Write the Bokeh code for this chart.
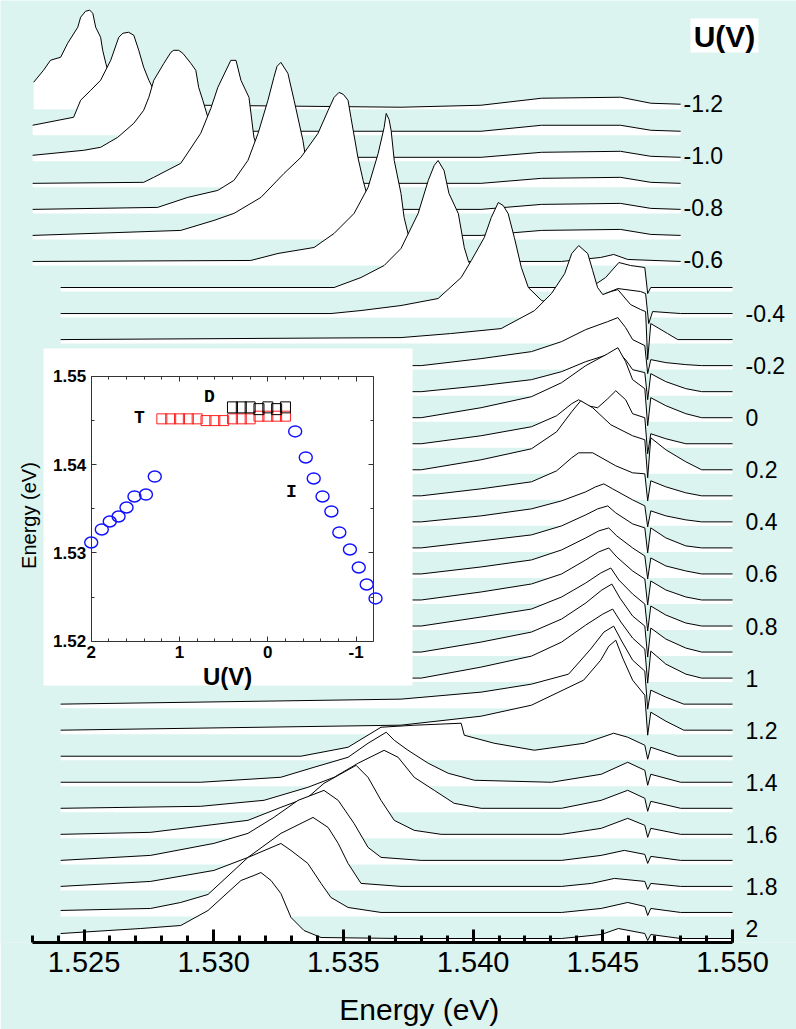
import numpy as np
from bokeh.plotting import figure
from bokeh.models import Range1d, LinearAxis, FixedTicker, PrintfTickFormatter
from bokeh.embed import file_html
from bokeh.resources import INLINE
from bokeh.core.properties import value

# ---------------------------------------------------------------------------
# Photoluminescence spectra versus gate voltage U (V).
# Each spectrum: (photon energy in eV, intensity in a.u. above its own baseline)
# ---------------------------------------------------------------------------
S_M12 = [(1.52306, 23), (1.52344, 35), (1.52371, 45), (1.52410, 48), (1.52437, 62), (1.52476, 78),
         (1.52487, 88), (1.52506, 94), (1.52522, 95), (1.52534, 92), (1.52545, 78), (1.52564, 68),
         (1.52572, 55), (1.52584, 42), (1.52603, 25), (1.52634, 10), (1.52680, 3), (1.52950, 0),
         (1.53722, -2), (1.54031, 0), (1.54264, 7), (1.54568, 8), (1.54685, 2), (1.54800, 1)]
S_M11 = [(1.52302, 6), (1.52460, 14), (1.52487, 31), (1.52526, 41), (1.52564, 51), (1.52603, 71),
         (1.52634, 94), (1.52650, 98), (1.52672, 99), (1.52692, 96), (1.52711, 81), (1.52730, 64),
         (1.52750, 51), (1.52769, 41), (1.52796, 25), (1.52827, 10), (1.52873, 3), (1.53028, 0),
         (1.54031, 0), (1.54264, 6), (1.54568, 6), (1.54685, 1), (1.54800, 0)]
S_M10 = [(1.52302, 2), (1.52499, 7), (1.52564, 10), (1.52630, 20), (1.52692, 34), (1.52730, 47),
         (1.52750, 60), (1.52769, 77), (1.52808, 94), (1.52835, 105), (1.52846, 107), (1.52865, 107),
         (1.52881, 104), (1.52912, 94), (1.52931, 87), (1.52942, 70), (1.52958, 57), (1.52989, 30),
         (1.53028, 10), (1.53086, 2), (1.53336, 0), (1.54031, 0), (1.54264, 5), (1.54568, 6),
         (1.54685, 1), (1.54800, 0)]
S_M09 = [(1.52302, 0), (1.52730, 1), (1.52769, 6), (1.52873, 20), (1.52950, 50), (1.52989, 75),
         (1.53016, 96), (1.53066, 123), (1.53086, 123), (1.53105, 103), (1.53136, 86), (1.53155, 46),
         (1.53182, 25), (1.53221, 8), (1.53279, 2), (1.53414, 0), (1.54031, 0), (1.54264, 5),
         (1.54568, 6), (1.54685, 1), (1.54800, 0)]
S_M08 = [(1.52302, 0), (1.52784, 2), (1.52900, 12), (1.53016, 19), (1.53078, 29), (1.53132, 49),
         (1.53171, 76), (1.53209, 109), (1.53232, 132), (1.53244, 143), (1.53259, 147), (1.53286, 136),
         (1.53310, 109), (1.53344, 69), (1.53356, 49), (1.53363, 36), (1.53394, 18), (1.53433, 6),
         (1.53510, 1), (1.53722, 0), (1.54031, 0), (1.54264, 5), (1.54568, 6), (1.54685, 1), (1.54800, 0)]
S_M07 = [(1.52302, 0), (1.52873, 5), (1.53001, 15), (1.53078, 22), (1.53182, 38), (1.53271, 62),
         (1.53336, 78), (1.53402, 102), (1.53441, 125), (1.53464, 138), (1.53483, 143), (1.53500, 141),
         (1.53518, 135), (1.53529, 118), (1.53556, 78), (1.53576, 55), (1.53607, 25), (1.53645, 8),
         (1.53722, 2), (1.53838, 0), (1.54031, 0), (1.54264, 5), (1.54568, 6), (1.54685, 1), (1.54800, 0)]
S_M06 = [(1.52302, 0), (1.53143, 1), (1.53248, 8), (1.53387, 14), (1.53464, 28), (1.53541, 48),
         (1.53595, 74), (1.53634, 108), (1.53657, 134), (1.53665, 148), (1.53676, 142), (1.53684, 131),
         (1.53696, 101), (1.53722, 68), (1.53734, 44), (1.53749, 28), (1.53780, 8), (1.53819, 2),
         (1.53954, 0), (1.54341, 0), (1.54492, 4), (1.54542, 7), (1.54596, 2), (1.54800, 0)]
S_M05 = [(1.52410, 0), (1.53464, 0), (1.53568, 10), (1.53657, 22), (1.53722, 39), (1.53788, 74),
         (1.53827, 107), (1.53850, 122), (1.53865, 127), (1.53888, 117), (1.53907, 94), (1.53943, 74),
         (1.53966, 40), (1.53981, 27), (1.54012, 10), (1.54070, 3), (1.54186, 0), (1.54453, 0),
         (1.54511, 10), (1.54562, 25), (1.54607, 22), (1.54662, 20), (1.54673, -6), (1.54685, 0),
         (1.55000, 0)]
S_M04 = [(1.52410, 0), (1.53452, 0), (1.53568, 3), (1.53722, 8), (1.53865, 15), (1.53954, 36),
         (1.53993, 53), (1.54043, 76), (1.54070, 96), (1.54097, 111), (1.54116, 108), (1.54135, 100),
         (1.54159, 76), (1.54186, 46), (1.54213, 26), (1.54264, 13), (1.54341, 8), (1.54453, 10),
         (1.54511, 20), (1.54558, 25), (1.54646, 22), (1.54665, 20), (1.54677, -10), (1.54692, 2),
         (1.54800, 0), (1.55000, 0)]
S_M03 = [(1.52410, 0), (1.53722, 2), (1.53913, 6), (1.54108, 11), (1.54237, 29), (1.54302, 46),
         (1.54353, 66), (1.54380, 86), (1.54407, 94), (1.54442, 86), (1.54461, 69), (1.54480, 52),
         (1.54500, 45), (1.54531, 48), (1.54558, 50), (1.54607, 35), (1.54646, 30), (1.54665, 28),
         (1.54673, -20), (1.54685, 16), (1.54750, 6), (1.54789, 0), (1.55000, 0)]
S_M02 = [(1.52410, 0), (1.53800, 0), (1.54031, 7), (1.54225, 14), (1.54341, 24), (1.54434, 36),
         (1.54519, 44), (1.54558, 48), (1.54588, 38), (1.54615, 26), (1.54662, 20), (1.54673, -8),
         (1.54685, 6), (1.54743, 3), (1.54820, 1), (1.54881, 0), (1.55000, 0)]
S_M01 = [(1.52410, 0), (1.53800, 0), (1.54031, 6), (1.54225, 12), (1.54341, 20), (1.54434, 30),
         (1.54519, 37), (1.54558, 40), (1.54588, 32), (1.54615, 22), (1.54662, 19), (1.54673, -8),
         (1.54685, 18), (1.54743, 10), (1.54820, 3), (1.54881, 0), (1.55000, 0)]
S_P00 = [(1.52410, 0), (1.53800, 0), (1.54031, 10), (1.54225, 21), (1.54341, 35), (1.54434, 52),
         (1.54519, 64), (1.54558, 70), (1.54588, 56), (1.54615, 38), (1.54662, 29), (1.54673, -8),
         (1.54685, 20), (1.54743, 12), (1.54820, 4), (1.54881, 0), (1.55000, 0)]
S_P01 = [(1.52410, 0), (1.53800, 0), (1.54031, 8), (1.54225, 17), (1.54322, 28), (1.54380, 40),
         (1.54407, 44), (1.54442, 38), (1.54480, 36), (1.54519, 45), (1.54550, 53), (1.54588, 44),
         (1.54615, 30), (1.54662, 26), (1.54673, -10), (1.54685, 10), (1.54743, 5), (1.54820, 0),
         (1.55000, 0)]
S_P02 = [(1.52410, 0), (1.53800, 0), (1.54031, 10), (1.54225, 21), (1.54322, 38), (1.54380, 58),
         (1.54415, 69), (1.54461, 62), (1.54531, 45), (1.54615, 34), (1.54662, 30), (1.54673, -8),
         (1.54685, 32), (1.54743, 20), (1.54820, 8), (1.54881, 0), (1.55000, 0)]
S_P03 = [(1.52410, 0), (1.53800, 0), (1.54031, 7), (1.54225, 14), (1.54322, 25), (1.54380, 38),
         (1.54407, 43), (1.54461, 43), (1.54550, 30), (1.54615, 23), (1.54662, 22), (1.54673, -5),
         (1.54685, 15), (1.54743, 9), (1.54820, 3), (1.54881, 0), (1.55000, 0)]
S_P04 = [(1.52410, 0), (1.53800, 0), (1.54031, 6), (1.54225, 13), (1.54341, 21), (1.54434, 30),
         (1.54472, 35), (1.54504, 38), (1.54538, 33), (1.54615, 22), (1.54662, 16), (1.54673, -5),
         (1.54685, 11), (1.54743, 6), (1.54820, 2), (1.54881, 0), (1.55000, 0)]
S_P05 = [(1.52410, 0), (1.53800, 0), (1.54031, 7), (1.54225, 13), (1.54341, 22), (1.54434, 33),
         (1.54480, 39), (1.54519, 42), (1.54550, 35), (1.54615, 24), (1.54662, 20), (1.54673, -5),
         (1.54685, 20), (1.54743, 10), (1.54820, 2), (1.54881, 0), (1.55000, 0)]
S_P06 = [(1.52410, 0), (1.53800, 0), (1.54031, 7), (1.54225, 14), (1.54341, 24), (1.54434, 36),
         (1.54484, 43), (1.54523, 46), (1.54554, 38), (1.54615, 26), (1.54662, 18), (1.54673, -5),
         (1.54685, 16), (1.54743, 8), (1.54820, 3), (1.54881, 0), (1.55000, 0)]
S_P07 = [(1.52410, 0), (1.53800, 0), (1.54031, 8), (1.54225, 16), (1.54341, 26), (1.54434, 40),
         (1.54484, 48), (1.54523, 52), (1.54554, 43), (1.54615, 29), (1.54662, 21), (1.54673, -5),
         (1.54685, 19), (1.54743, 10), (1.54820, 3), (1.54881, 0), (1.55000, 0)]
S_P08 = [(1.52410, 0), (1.53800, 0), (1.54031, 9), (1.54225, 17), (1.54341, 29), (1.54434, 43),
         (1.54492, 53), (1.54531, 58), (1.54562, 46), (1.54615, 32), (1.54662, 22), (1.54673, -5),
         (1.54685, 20), (1.54743, 11), (1.54820, 3), (1.54881, 0), (1.55000, 0)]
S_P09 = [(1.52410, 0), (1.53800, 0), (1.54031, 10), (1.54225, 20), (1.54341, 33), (1.54434, 49),
         (1.54496, 62), (1.54535, 68), (1.54566, 54), (1.54615, 36), (1.54662, 26), (1.54673, -5),
         (1.54685, 24), (1.54743, 13), (1.54820, 4), (1.54881, 0), (1.55000, 0)]
S_P10 = [(1.52410, 0), (1.53800, 0), (1.54031, 11), (1.54225, 22), (1.54341, 36), (1.54434, 53),
         (1.54500, 64), (1.54538, 69), (1.54570, 56), (1.54615, 40), (1.54662, 29), (1.54673, -5),
         (1.54685, 27), (1.54743, 14), (1.54820, 4), (1.54881, 0), (1.55000, 0)]
S_P11 = [(1.52410, 0), (1.53722, 5), (1.54031, 12), (1.54225, 20), (1.54368, 30), (1.54453, 55),
         (1.54504, 72), (1.54542, 78), (1.54573, 63), (1.54615, 44), (1.54662, 33), (1.54673, -5),
         (1.54685, 14), (1.54743, 7), (1.54812, 0), (1.55000, 0)]
S_P12 = [(1.52410, 0), (1.53722, 5), (1.54031, 14), (1.54225, 25), (1.54426, 50), (1.54492, 70),
         (1.54523, 84), (1.54550, 90), (1.54577, 72), (1.54615, 50), (1.54662, 35), (1.54673, -5),
         (1.54685, 18), (1.54743, 9), (1.54812, 0), (1.55000, 0)]
S_P13 = [(1.52410, 0), (1.53336, 0), (1.53518, 9), (1.53645, 29), (1.53773, 31), (1.53954, 33),
         (1.53966, 21), (1.54081, 13), (1.54236, 6), (1.54429, 13), (1.54542, 23), (1.54596, 19),
         (1.54662, 11), (1.54673, -3), (1.54685, 9), (1.54789, 0), (1.55000, 0)]
S_P14 = [(1.52410, 0), (1.52950, 0), (1.53259, 5), (1.53387, 15), (1.53518, 25), (1.53595, 39),
         (1.53665, 50), (1.53696, 42), (1.53749, 32), (1.53827, 19), (1.53904, 9), (1.54005, 2),
         (1.54302, 0), (1.54494, 8), (1.54596, 20), (1.54662, 12), (1.54673, -3), (1.54685, 8),
         (1.54800, 0), (1.55000, 0)]
S_P15 = [(1.52410, 0), (1.52950, 2), (1.53194, 8), (1.53363, 21), (1.53464, 31), (1.53556, 45),
         (1.53657, 58), (1.53711, 51), (1.53773, 31), (1.53850, 18), (1.53927, 5), (1.54031, 0),
         (1.54341, 0), (1.54494, 8), (1.54596, 18), (1.54662, 10), (1.54673, -3), (1.54685, 7),
         (1.54800, 0), (1.55000, 0)]
S_P16 = [(1.52410, 0), (1.52757, 2), (1.53132, 14), (1.53259, 27), (1.53363, 37), (1.53425, 51),
         (1.53549, 69), (1.53595, 57), (1.53645, 34), (1.53696, 14), (1.53773, 4), (1.53877, 0),
         (1.54341, 0), (1.54494, 6), (1.54596, 16), (1.54662, 9), (1.54673, -3), (1.54685, 6),
         (1.54800, 0), (1.55000, 0)]
S_P17 = [(1.52410, 0), (1.52757, 5), (1.53001, 17), (1.53132, 27), (1.53232, 43), (1.53325, 60),
         (1.53425, 70), (1.53480, 60), (1.53541, 37), (1.53595, 13), (1.53645, 3), (1.53800, 0),
         (1.54341, 0), (1.54494, 5), (1.54583, 10), (1.54662, 6), (1.54673, -3), (1.54685, 4),
         (1.54800, 0), (1.55000, 0)]
S_P18 = [(1.52410, 0), (1.52757, 5), (1.53001, 16), (1.53132, 29), (1.53259, 53), (1.53383, 69),
         (1.53441, 59), (1.53480, 43), (1.53518, 23), (1.53568, 3), (1.53722, 0), (1.54341, 0),
         (1.54456, 3), (1.54545, 8), (1.54662, 5), (1.54673, -3), (1.54685, 3), (1.54800, 0),
         (1.55000, 0)]
S_P19 = [(1.52410, 2), (1.52757, 4), (1.52873, 10), (1.52978, 18), (1.53028, 30), (1.53132, 55),
         (1.53259, 69), (1.53298, 62), (1.53363, 49), (1.53414, 29), (1.53452, 15), (1.53518, 5),
         (1.53645, 0), (1.54341, 0), (1.54494, 4), (1.54596, 10), (1.54662, 6), (1.54673, -3),
         (1.54685, 4), (1.54800, 0), (1.55000, 0)]
S_P20 = [(1.52410, 5), (1.52719, 10), (1.52873, 13), (1.52978, 28), (1.53105, 58), (1.53155, 63),
         (1.53182, 66), (1.53221, 58), (1.53259, 45), (1.53298, 21), (1.53348, 8), (1.53414, 1),
         (1.53722, 0), (1.54341, 0), (1.54494, 4), (1.54560, 10), (1.54662, 5), (1.54673, -2),
         (1.54685, 4), (1.54800, 0), (1.55000, 0)]

VOLTAGES = [-1.2, -1.1, -1.0, -0.9, -0.8, -0.7, -0.6, -0.5, -0.4, -0.3, -0.2, -0.1, 0.0,
            0.1, 0.2, 0.3, 0.4, 0.5, 0.6, 0.7, 0.8, 0.9, 1.0, 1.1, 1.2, 1.3, 1.4, 1.5,
            1.6, 1.7, 1.8, 1.9, 2.0]
SPECTRA = [S_M12, S_M11, S_M10, S_M09, S_M08, S_M07, S_M06, S_M05, S_M04, S_M03, S_M02, S_M01,
           S_P00, S_P01, S_P02, S_P03, S_P04, S_P05, S_P06, S_P07, S_P08, S_P09, S_P10, S_P11,
           S_P12, S_P13, S_P14, S_P15, S_P16, S_P17, S_P18, S_P19, S_P20]

# Voltage labels at the right-hand end of the spectra
LABELS_UPPER = ["-1.2", "-1.0", "-0.8", "-0.6"]
LABELS_UPPER_U = [-1.2, -1.0, -0.8, -0.6]
LABELS_LOWER = ["-0.4", "-0.2", "0", "0.2", "0.4", "0.6", "0.8", "1", "1.2", "1.4", "1.6", "1.8", "2"]
LABELS_LOWER_U = [-0.4, -0.2, 0.0, 0.2, 0.4, 0.6, 0.8, 1.0, 1.2, 1.4, 1.6, 1.8, 2.0]

# Energy axis ticks
X_MAJOR = [1.525, 1.530, 1.535, 1.540, 1.545, 1.550]
X_MINOR = [round(1.523 + 0.001 * i, 3) for i in range(28)]

# Inset: peak positions versus voltage
I_U = [2.0, 1.88, 1.79, 1.69, 1.6, 1.51, 1.38, 1.28,
       -0.31, -0.43, -0.52, -0.62, -0.72, -0.81, -0.93, -1.03, -1.12, -1.22]
I_E = [1.53118, 1.53266, 1.53356, 1.53413, 1.53515, 1.53640, 1.53662, 1.53866,
       1.54377, 1.54082, 1.53844, 1.53640, 1.53470, 1.53232, 1.53039, 1.52835, 1.52642, 1.52484]
T_U = [1.2, 1.1, 1.0, 0.9, 0.8, 0.7, 0.6, 0.5, 0.4, 0.3, 0.2, 0.1, 0.0, -0.1, -0.2]
T_E = [1.5452, 1.5452, 1.5452, 1.5452, 1.5452, 1.5450, 1.5450, 1.5450, 1.5452, 1.5452, 1.5452,
       1.5455, 1.5455, 1.5455, 1.5455]
D_U = [0.4, 0.3, 0.2, 0.1, 0.0, -0.1, -0.2]
D_E = [1.5465, 1.5465, 1.5465, 1.5463, 1.5465, 1.5463, 1.5465]

# ---------------------------------------------------------------------------
BG = "#dbf4ef"
FONT = "Liberation Sans"
OFFSET_PER_VOLT = 260.4      # vertical shift between successive spectra (a.u. per V)
FILL_DEPTH = 4               # white fill reaches slightly below each baseline
NBSP = "\u00a0"


def baseline(u):
    return (2.0 - u) * OFFSET_PER_VOLT


p = figure(width=796, height=1029, output_backend="svg", toolbar_location=None,
           x_range=Range1d(1.521781, 1.552467), y_range=Range1d(-4, 938),
           x_axis_location=None, y_axis_location=None,
           min_border_left=0, min_border_right=0, min_border_top=0, min_border_bottom=87,
           background_fill_color=BG, border_fill_color=BG, outline_line_color=None)
p.grid.visible = False

# ---- stacked spectra, drawn top to bottom so lower ones hide those behind
for u, spec in zip(VOLTAGES, SPECTRA):
    e = np.array([pt[0] for pt in spec])
    h = np.array([pt[1] for pt in spec], dtype=float)
    b = baseline(u)
    y = b + h
    p.varea(x=e, y1=b - FILL_DEPTH, y2=np.maximum(y, b - FILL_DEPTH), fill_color="white")
    p.line(e, y, line_color="black", line_width=1)

# ---- voltage labels
p.text(x=[1.54811] * len(LABELS_UPPER), y=[baseline(u) + 2 for u in LABELS_UPPER_U],
       text=LABELS_UPPER, text_font=value(FONT), text_font_size="23px",
       text_baseline="middle", text_align="left", text_color="black")
lower_y = [baseline(u) for u in LABELS_LOWER_U]
lower_y[-1] += 10
p.text(x=[1.55050] * len(LABELS_LOWER), y=lower_y, text=LABELS_LOWER,
       text_font=value(FONT), text_font_size="23px", text_baseline="middle",
       text_align="left", text_color="black")

# ---- "U(V)" heading on a white patch
p.quad(left=1.54838, right=1.55100, bottom=886, top=920, fill_color="white", line_color=None)
p.text(x=[1.54969], y=[902], text=["U(V)"], text_font=value(FONT), text_font_size="30px",
       text_font_style="bold", text_baseline="middle", text_align="center")

# ---- energy axis
xaxis = LinearAxis(bounds=(1.523, 1.550),
                   ticker=FixedTicker(ticks=X_MAJOR, minor_ticks=X_MINOR),
                   formatter=PrintfTickFormatter(format="%.3f"))
xaxis.axis_line_width = 3
xaxis.major_tick_line_width = 3
xaxis.minor_tick_line_width = 3
xaxis.major_tick_in = 13
xaxis.major_tick_out = 0
xaxis.minor_tick_in = 7
xaxis.minor_tick_out = 0
xaxis.major_label_standoff = 9
xaxis.major_label_text_font = FONT
xaxis.major_label_text_font_size = "29px"
xaxis.major_label_text_color = "black"
xaxis.axis_label = NBSP * 5 + "Energy (eV)"
xaxis.axis_label_standoff = 18
xaxis.axis_label_text_font = FONT
xaxis.axis_label_text_font_size = "30px"
xaxis.axis_label_text_font_style = "normal"
xaxis.axis_label_text_color = "black"
p.add_layout(xaxis, "below")

# ---------------------------------------------------------------------------
# Inset: peak energy versus voltage, on its own scales
# ---------------------------------------------------------------------------
p.extra_x_ranges = {"u": Range1d(3.0272, -5.9875)}
p.extra_y_ranges = {"e": Range1d(1.48584, 1.59262)}
RN = dict(x_range_name="u", y_range_name="e")

p.quad(left=2.54, right=-1.639, bottom=1.51497, top=1.55317, fill_color="white",
       line_color=None, **RN)
p.rect(x=T_U, y=T_E, width=10, height=10, width_units="screen", height_units="screen",
       fill_color=None, line_color="#ff2020", line_width=1, **RN)
p.rect(x=D_U, y=D_E, width=10, height=11, width_units="screen", height_units="screen",
       fill_color=None, line_color="black", line_width=1, **RN)
p.ellipse(x=I_U, y=I_E, width=13, height=11, width_units="screen", height_units="screen",
          fill_color=None, line_color="#1010ff", line_width=1.4, **RN)

MONO = "Liberation Mono"
p.text(x=[1.453, 0.660, -0.268], y=[1.54524, 1.54773, 1.53685], text=["T", "D", "I"],
       text_font=value(MONO), text_font_style="bold", text_font_size="18px",
       text_align="center", text_baseline="middle", **RN)
p.text(x=[0.456], y=[1.51599], text=["U(V)"], text_font=value(FONT), text_font_style="bold",
       text_font_size="24px", text_align="center", text_baseline="middle", **RN)
p.text(x=[2.710], y=[1.53424], text=["Energy (eV)"], text_font=value(FONT),
       text_font_size="20px", angle=np.pi / 2, text_align="center", text_baseline="middle", **RN)

U_MAJOR = [2, 1, 0, -1]
U_MINOR = [1.8, 1.6, 1.4, 1.2, 0.8, 0.6, 0.4, 0.2, -0.2, -0.4, -0.6, -0.8]
E_MAJOR = [1.52, 1.53, 1.54, 1.55]
E_MINOR = [1.525, 1.535, 1.545]


def inset_axis(side, loc, bounds, ticks, minor, labels, fmt):
    ax = LinearAxis(fixed_location=loc, bounds=bounds,
                    ticker=FixedTicker(ticks=ticks, minor_ticks=minor), **RN)
    if fmt:
        ax.formatter = PrintfTickFormatter(format=fmt)
    ax.axis_line_color = "#333333"
    ax.major_tick_line_color = "#333333"
    ax.minor_tick_line_color = "#333333"
    ax.major_tick_in = 5
    ax.major_tick_out = 0
    ax.minor_tick_in = 3
    ax.minor_tick_out = 0
    ax.major_label_standoff = 5
    ax.major_label_text_font = FONT
    ax.major_label_text_font_style = "bold"
    ax.major_label_text_font_size = "17px" if labels else "0px"
    ax.major_label_text_color = "black" if labels else None
    p.add_layout(ax, side)


inset_axis("below", 1.52, (-1.2, 2.0), U_MAJOR, U_MINOR, True, "%d")
inset_axis("above", 1.55, (-1.2, 2.0), U_MAJOR, U_MINOR, False, None)
inset_axis("left", 2.0, (1.52, 1.55), E_MAJOR, E_MINOR, True, "%.2f")
inset_axis("right", -1.2, (1.52, 1.55), E_MAJOR, E_MINOR, False, None)

open("out.html", "w").write(file_html(p, INLINE))
